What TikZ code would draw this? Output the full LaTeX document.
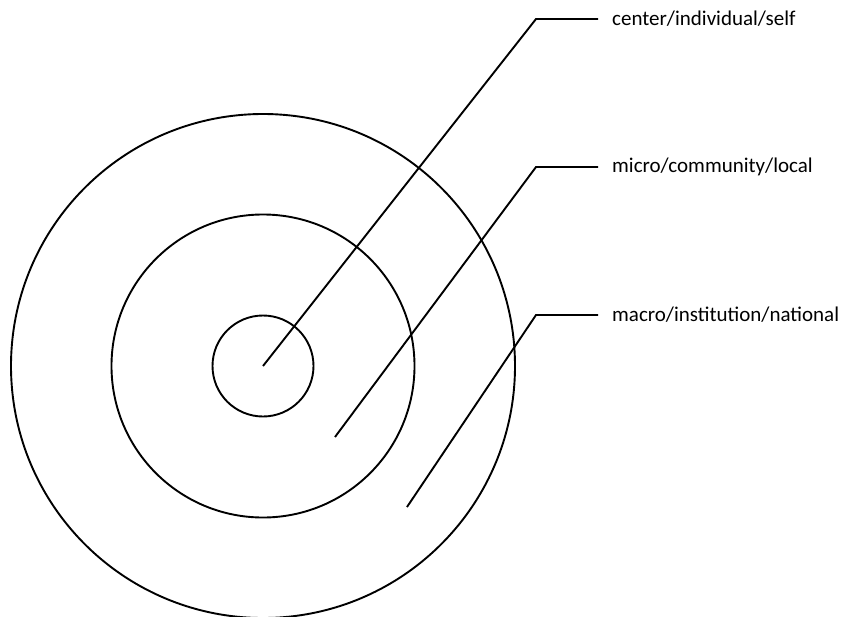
\documentclass[tikz,border=0pt]{standalone}
\usepackage{fontspec}
\setmainfont{Carlito}
\begin{document}
\begin{tikzpicture}[x=1pt,y=-1pt,
  ring/.style={circle,draw,line width=1.9pt,inner sep=0pt},
  leader/.style={line width=1.9pt},
  lbl/.style={anchor=west,inner sep=0pt,font=\fontsize{21}{25}\selectfont}]
\useasboundingbox (0,0) rectangle (843,616);
\coordinate (c) at (263,366);
\node[ring,minimum size=504pt] (outer) at (c) {};
\node[ring,minimum size=303pt] (middle) at (c) {};
\node[ring,minimum size=101pt] (inner) at (c) {};
% leaders
\coordinate (s1) at (263,366);
\coordinate (b1) at (536,19);
\coordinate (e1) at (598,19);
\coordinate (s2) at (335,437);
\coordinate (b2) at (536,167);
\coordinate (e2) at (598,167);
\coordinate (s3) at (407,507);
\coordinate (b3) at (536,315);
\coordinate (e3) at (598,315);
\node[lbl] (t1) at (612,19) {center/individual/self};
\node[lbl] (t2) at (612,167) {micro/community/local};
\node[lbl] (t3) at (612,315) {macro/institution/national};
\draw[leader] (s1) -- (b1) -- (e1);
\draw[leader] (s2) -- (b2) -- (e2);
\draw[leader] (s3) -- (b3) -- (e3);
\end{tikzpicture}
\end{document}
